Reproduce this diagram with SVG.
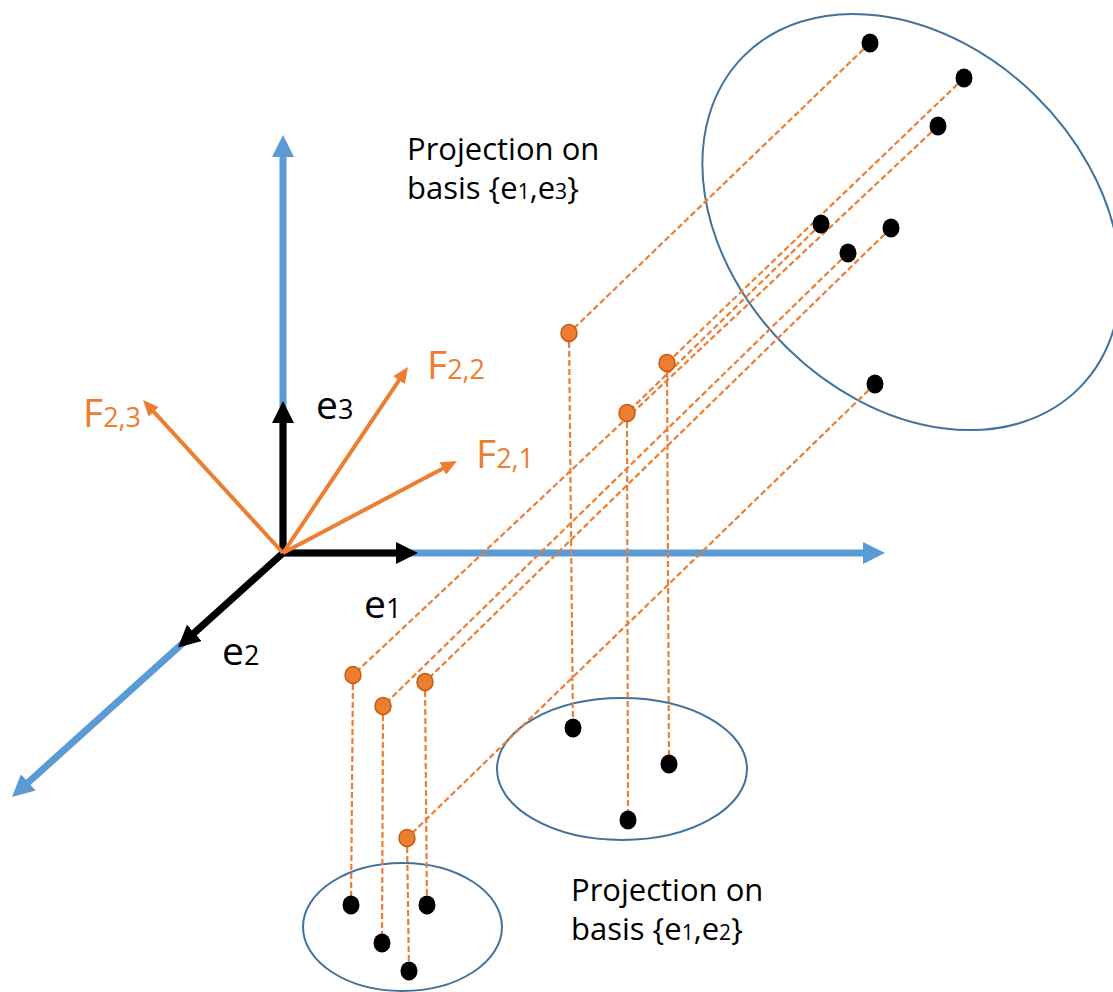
<svg xmlns="http://www.w3.org/2000/svg" width="1113" height="992" viewBox="0 0 1113 992">
<defs>
<style>
.axis{stroke:#5B9BD5;stroke-width:7;fill:none}
.basis{stroke:#000;stroke-width:7;fill:none}
.fvec{stroke:#ED7D31;stroke-width:4;fill:none}
.dash{stroke:#ED7D31;stroke-width:2.2;stroke-dasharray:6 3;fill:none}
.ell{fill:none;stroke:#41719C;stroke-width:2}
.pt{fill:#000}
.op{fill:#ED7D31;stroke:#C55A11;stroke-width:1.5}
.lbl{font-family:"Open Sans","Liberation Sans",sans-serif;font-size:39px;fill:#000}
.or{fill:#ED7D31}
.sub{font-size:27px}
.cap{font-family:"Open Sans","Liberation Sans",sans-serif;font-size:31px;fill:#000}
.csub{font-size:21px}
</style>
<marker id="mBlue" markerUnits="userSpaceOnUse" markerWidth="22" markerHeight="22" refX="10" refY="11" orient="auto" viewBox="0 0 22 22"><path d="M0,0 L22,11 L0,22 z" fill="#5B9BD5"/></marker>
<marker id="mBlack" markerUnits="userSpaceOnUse" markerWidth="22" markerHeight="22" refX="10" refY="11" orient="auto" viewBox="0 0 22 22"><path d="M0,0 L22,11 L0,22 z" fill="#000"/></marker>
<marker id="mOr" markerUnits="userSpaceOnUse" markerWidth="16" markerHeight="14" refX="8" refY="7" orient="auto" viewBox="0 0 16 14"><path d="M0,0 L16,7 L0,14 z" fill="#ED7D31"/></marker>
</defs>
<rect width="1113" height="992" fill="#fff"/>

<g id="ellipse-e1e3"><ellipse class="ell" cx="911.5" cy="222" rx="236" ry="177" transform="rotate(44.5 911.5 222)"/></g>
<g id="ellipse-e1e2-mid"><ellipse class="ell" cx="622" cy="769" rx="125" ry="71"/></g>
<g id="ellipse-e1e2-left"><ellipse class="ell" cx="402.5" cy="927" rx="99.5" ry="64"/></g>

<g id="axes">
<line class="axis" x1="283" y1="553" x2="283" y2="147" marker-end="url(#mBlue)"/>
<line class="axis" x1="283" y1="553" x2="873" y2="553" marker-end="url(#mBlue)"/>
<line class="axis" x1="283" y1="553" x2="20.9" y2="789" marker-end="url(#mBlue)"/>
</g>
<g id="basis-vectors">
<line class="basis" x1="283" y1="553" x2="283" y2="413" marker-end="url(#mBlack)"/>
<line class="basis" x1="283" y1="553" x2="406" y2="553" marker-end="url(#mBlack)"/>
<line class="basis" x1="283" y1="553" x2="186.9" y2="639.5" marker-end="url(#mBlack)"/>
</g>
<g id="f-vectors">
<line class="fvec" x1="283" y1="553" x2="148.4" y2="405.9" marker-end="url(#mOr)"/>
<line class="fvec" x1="283" y1="553" x2="403.5" y2="373.6" marker-end="url(#mOr)"/>
<line class="fvec" x1="283" y1="553" x2="449.9" y2="464.7" marker-end="url(#mOr)"/>
</g>

<g id="connectors">
<line class="dash" x1="870" y1="43" x2="569" y2="333"/>
<line class="dash" x1="964" y1="78" x2="667" y2="363"/>
<line class="dash" x1="938" y1="126" x2="353" y2="675"/>
<line class="dash" x1="821" y1="224" x2="627" y2="413"/>
<line class="dash" x1="848" y1="253" x2="383" y2="706"/>
<line class="dash" x1="891" y1="228" x2="425" y2="682"/>
<line class="dash" x1="875" y1="384" x2="407" y2="838"/>
<line class="dash" x1="569" y1="333" x2="573" y2="728"/>
<line class="dash" x1="667" y1="363" x2="669" y2="764"/>
<line class="dash" x1="627" y1="413" x2="628" y2="820"/>
<line class="dash" x1="353" y1="675" x2="351" y2="905"/>
<line class="dash" x1="383" y1="706" x2="382" y2="943"/>
<line class="dash" x1="425" y1="682" x2="427" y2="905"/>
<line class="dash" x1="407" y1="838" x2="409" y2="971"/>
</g>

<g id="points-3d">
<g id="p1"><ellipse class="pt" cx="870" cy="43" rx="8.5" ry="9.5"/></g>
<g id="p2"><ellipse class="pt" cx="964" cy="78" rx="8.5" ry="9.5"/></g>
<g id="p3"><ellipse class="pt" cx="938" cy="126" rx="8.5" ry="9.5"/></g>
<g id="p4"><ellipse class="pt" cx="821" cy="224" rx="8.5" ry="9.5"/></g>
<g id="p5"><ellipse class="pt" cx="891" cy="228" rx="8.5" ry="9.5"/></g>
<g id="p6"><ellipse class="pt" cx="848" cy="253" rx="8.5" ry="9.5"/></g>
<g id="p7"><ellipse class="pt" cx="875" cy="384" rx="8.5" ry="9.5"/></g>
</g>
<g id="points-proj">
<g id="q1"><ellipse class="op" cx="569" cy="333" rx="8" ry="8.5"/></g>
<g id="q2"><ellipse class="op" cx="667" cy="363" rx="8" ry="8.5"/></g>
<g id="q3"><ellipse class="op" cx="627" cy="413" rx="8" ry="8.5"/></g>
<g id="q4"><ellipse class="op" cx="353" cy="675" rx="8" ry="8.5"/></g>
<g id="q5"><ellipse class="op" cx="383" cy="706" rx="8" ry="8.5"/></g>
<g id="q6"><ellipse class="op" cx="425" cy="682" rx="8" ry="8.5"/></g>
<g id="q7"><ellipse class="op" cx="407" cy="838" rx="8" ry="8.5"/></g>
</g>
<g id="points-e1e2">
<g id="r1"><ellipse class="pt" cx="573" cy="728" rx="8.5" ry="9.5"/></g>
<g id="r2"><ellipse class="pt" cx="669" cy="764" rx="8.5" ry="9.5"/></g>
<g id="r3"><ellipse class="pt" cx="628" cy="820" rx="8.5" ry="9.5"/></g>
<g id="r4"><ellipse class="pt" cx="351" cy="905" rx="8.5" ry="9.5"/></g>
<g id="r5"><ellipse class="pt" cx="427" cy="905" rx="8.5" ry="9.5"/></g>
<g id="r6"><ellipse class="pt" cx="382" cy="943" rx="8.5" ry="9.5"/></g>
<g id="r7"><ellipse class="pt" cx="409" cy="971" rx="8.5" ry="9.5"/></g>
</g>

<g id="labels">
<g id="lbl-e3"><text class="lbl" x="316" y="419">e<tspan class="sub">3</tspan></text></g>
<g id="lbl-e1"><text class="lbl" x="364" y="618">e<tspan class="sub">1</tspan></text></g>
<g id="lbl-e2"><text class="lbl" x="222" y="665">e<tspan class="sub">2</tspan></text></g>
<g id="lbl-f23"><text class="lbl or" x="83" y="427">F<tspan class="sub">2,3</tspan></text></g>
<g id="lbl-f22"><text class="lbl or" x="427" y="379">F<tspan class="sub">2,2</tspan></text></g>
<g id="lbl-f21"><text class="lbl or" x="476" y="468">F<tspan class="sub">2,1</tspan></text></g>
<g id="cap-e1e3"><text class="cap" x="407" y="160">Projection on</text><text class="cap" x="407" y="199">basis {e<tspan class="csub">1</tspan>,e<tspan class="csub">3</tspan>}</text></g>
<g id="cap-e1e2"><text class="cap" x="571" y="901">Projection on</text><text class="cap" x="571" y="940">basis {e<tspan class="csub">1</tspan>,e<tspan class="csub">2</tspan>}</text></g>
</g>
</svg>
